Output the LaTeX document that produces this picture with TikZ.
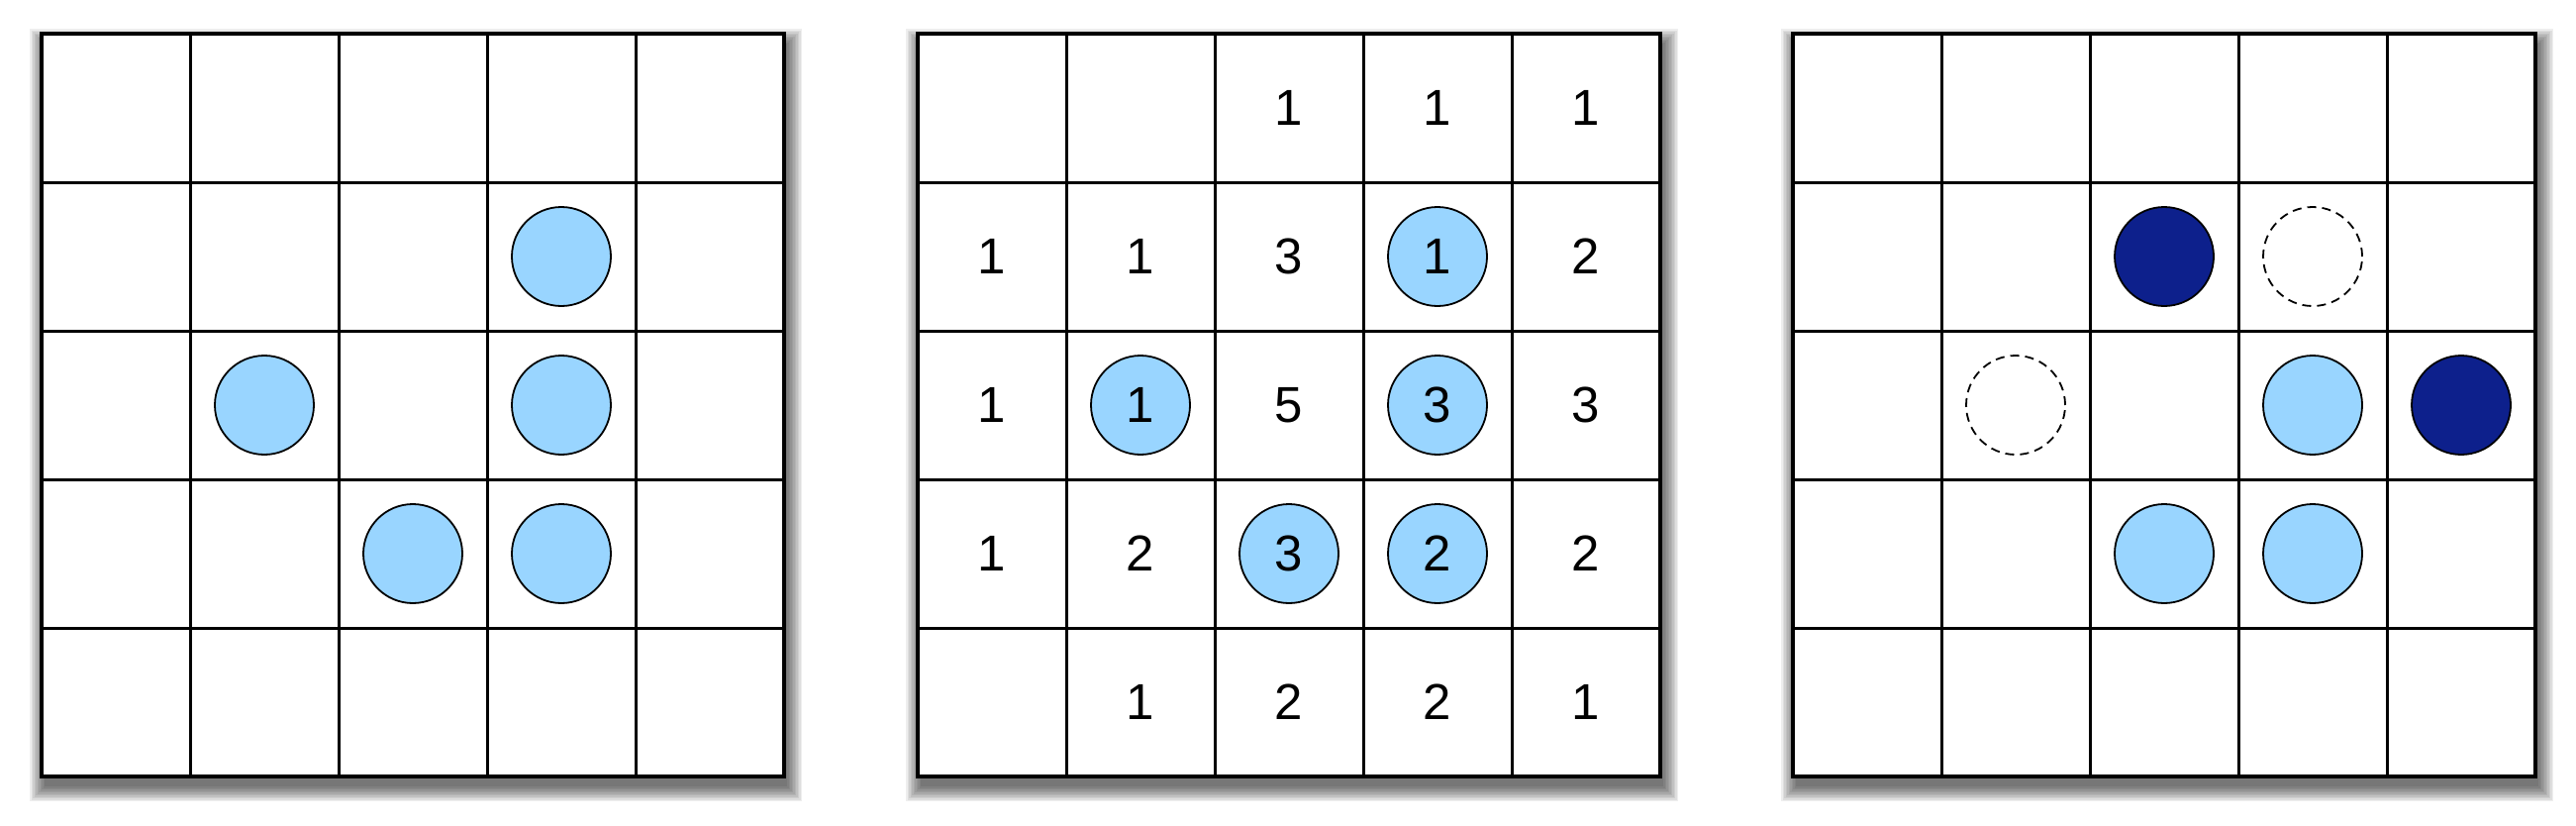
\documentclass[tikz,border=0pt]{standalone}
\usepackage{fontspec}
\setmainfont{Liberation Sans}
\definecolor{lightb}{RGB}{153,213,255}
\definecolor{darkb}{RGB}{13,32,140}
\begin{document}
\begin{tikzpicture}[x=1pt,y=-1pt,
  gridline/.style={line width=3pt},
  disc/.style={circle,draw,line width=1.8pt,minimum size=100pt,inner sep=0pt},
  lightdisc/.style={disc,fill=lightb},
  darkdisc/.style={disc,fill=darkb},
  ghost/.style={disc,dashed,dash pattern=on 9pt off 6pt},
  num/.style={font=\fontsize{51}{51}\selectfont,inner sep=0pt}]
\useasboundingbox (0,0) rectangle (2602,833);
% shadows and grids
\foreach \gx/\g in {42/A,927/B,1811/C}{
  \foreach \k in {15,13.5,...,0}{
    \fill[black,opacity=0.065] (\gx+3-\k,34+10-\k) rectangle (\gx+750+3+\k,784+10+\k);
  }
  \fill[white] (\gx,34) rectangle (\gx+750,784);
  \foreach \i in {1,...,4}{
    \draw[gridline] (\gx+150*\i,34) -- (\gx+150*\i,784);
    \draw[gridline] (\gx,34+150*\i) -- (\gx+750,34+150*\i);
  }
  \draw[line width=3.5pt] (\gx,34) rectangle (\gx+750,784);
  \foreach \r in {1,...,5}{
    \foreach \c in {1,...,5}{
      \coordinate (\g\r\c) at (\gx+150*\c-75,34+150*\r-75);
    }
  }
}
% grid 1
\foreach \p in {24,32,34,43,44}{
  \node[lightdisc] (a\p) at (A\p) {};
}
% grid 2
\foreach \p in {24,32,34,43,44}{
  \node[lightdisc] (b\p) at (B\p) {};
}
\foreach \p/\t in {13/1,14/1,15/1,21/1,22/1,23/3,24/1,25/2,31/1,32/1,33/5,34/3,35/3,41/1,42/2,43/3,44/2,45/2,52/1,53/2,54/2,55/1}{
  \node[num] (n\p) at (B\p) {\t};
}
% grid 3
\node[darkdisc] (c23) at (C23) {};
\node[ghost] (c24) at (C24) {};
\node[ghost] (c32) at (C32) {};
\node[lightdisc] (c34) at (C34) {};
\node[darkdisc] (c35) at (C35) {};
\node[lightdisc] (c43) at (C43) {};
\node[lightdisc] (c44) at (C44) {};
\end{tikzpicture}
\end{document}
